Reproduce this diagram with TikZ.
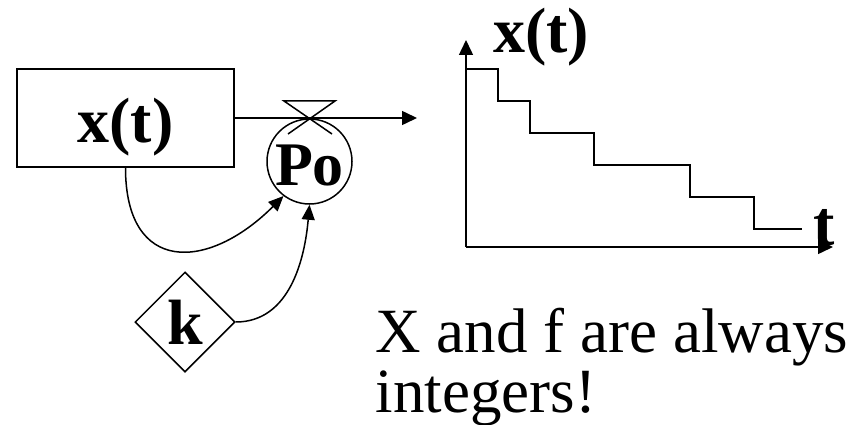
\documentclass[tikz,border=0pt]{standalone}
\usepackage{fontspec}
\setmainfont{Liberation Serif}
\usetikzlibrary{arrows.meta,shapes.geometric}
\begin{document}
\begin{tikzpicture}[x=1pt,y=1pt,
  line width=1.5pt,
  big/.style={font=\bfseries\fontsize{64}{64}\selectfont},
  arr/.style={-{Triangle[length=15pt,width=14pt]}},
  arrs/.style={-{Triangle[length=15pt,width=13pt]}},
  note/.style={anchor=base west, inner sep=0pt, font=\fontsize{63}{63}\selectfont}]
\useasboundingbox (0,0) rectangle (850,-425);
% stock
\node[draw, minimum width=217pt, minimum height=98pt, inner sep=0pt, big,
      text height=58pt, text depth=10pt] (box) at (125.5,-118) {x(t)};
% converter
\node[draw, circle, minimum size=85pt, inner sep=0pt,
      font=\bfseries\fontsize{62}{62}\selectfont,
      text height=47pt, text depth=0pt] (po) at (309.5,-161.5) {Po};
% constant
\node[draw, diamond, minimum width=100pt, minimum height=100pt, inner sep=0pt, big] (k) at (185,-322) {k};
% outflow with valve
\coordinate (flowend) at (417,-118);
\draw[arr] (box.east) -- (flowend);
\draw (288,-134) -- (335,-101) -- (284,-101) -- (332,-134);
% information links
\draw[arrs] (box.south) to[out=-90,in=-135,looseness=1.7] (po.233);
\draw[arrs] (k.east) to[out=0,in=-95] (po.south);
% graph
\coordinate (O) at (466,-247);
\coordinate (ytip) at (466,-40);
\coordinate (xtip) at (833,-247);
\draw[arr] (O) -- (ytip);
\draw[arr] (O) -- (xtip);
\draw (466,-69) -| (498,-101) -| (530,-133) -| (594,-165) -| (690,-197) -| (754,-229) -- (802,-229);
\node[big, anchor=base] (ylab) at (541,-53) {x(t)};
\node[big, anchor=base] (tlab) at (824,-245) {t};
% note
\node[note] (note1) at (375,-352) {X and f are always};
\node[note] (note2) at (375,-412) {integers!};
\end{tikzpicture}
\end{document}
